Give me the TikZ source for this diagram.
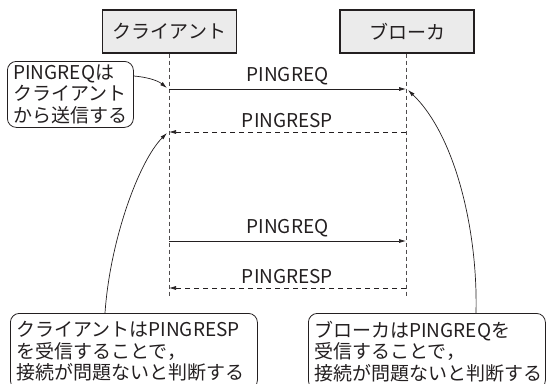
\documentclass[tikz,border=0pt]{standalone}
\usepackage{fontspec}
\setmainfont{Noto Sans CJK JP}
\usetikzlibrary{arrows.meta}
\definecolor{ink}{HTML}{231F20}
\definecolor{boxfill}{HTML}{EBEBEB}
\tikzset{
  every node/.style={font=\fontsize{19}{21.5}\selectfont, text=ink},
  actor/.style={draw=ink, line width=1.3pt, fill=boxfill, minimum width=134pt, minimum height=43pt, inner sep=0pt},
  lifeline/.style={draw=ink!80, line width=0.7pt, dash pattern=on 4pt off 3pt},
  msg/.style={draw=ink, line width=0.7pt, -{Latex[length=7pt,width=4pt]}},
  rmsg/.style={msg, dash pattern=on 5pt off 4pt},
  note/.style={draw=ink, line width=0.8pt, rounded corners=9pt, align=left, inner xsep=6pt, inner ysep=0pt, anchor=north west},
  pointer/.style={draw=ink, line width=0.7pt, -{Latex[length=7pt,width=4pt]}},
  lbl/.style={above, inner sep=0pt, yshift=4pt}
}
\begin{document}
\begin{tikzpicture}[x=1pt,y=-1pt]
\useasboundingbox (0,0) rectangle (546,383);
% actors
\node[actor] (cl) at (169.5,31.5) {クライアント};
\node[actor] (br) at (407,31.5) {ブローカ};
% lifeline ends
\coordinate (cle) at (169,298);
\coordinate (bre) at (406,298);
\draw[lifeline] (cl.south -| cle) -- (cle);
\draw[lifeline] (br.south -| bre) -- (bre);
% message points
\coordinate (c1) at (169,89);  \coordinate (b1) at (406,89);
\coordinate (c2) at (169,132); \coordinate (b2) at (406,132);
\coordinate (c3) at (169,241); \coordinate (b3) at (406,241);
\coordinate (c4) at (169,288); \coordinate (b4) at (406,288);
\draw[msg] (c1) -- node[lbl] {PINGREQ} (b1);
\draw[rmsg] (b2) -- node[lbl] {PINGRESP} (c2);
\draw[msg] (c3) -- node[lbl] {PINGREQ} (b3);
\draw[rmsg] (b4) -- node[lbl] {PINGRESP} (c4);
% notes
\node[note, text width=114pt, minimum height=66pt] (n1) at (7,61) {PINGREQは\\クライアント\\から送信する};
\node[note, text width=235pt, minimum height=76pt] (n2) at (10,313) {クライアントはPINGRESP\\を受信することで，\\接続が問題ないと判断する};
\node[note, text width=225pt, minimum height=76pt] (n3) at (308,313) {ブローカはPINGREQを\\受信することで，\\接続が問題ないと判断する};
% pointers
\coordinate (p1s) at (n1.north east |- 0,76);
\coordinate (p1e) at (167,88);
\draw[pointer] (p1s) .. controls +(12,1) and +(-10,-8) .. (p1e);
\coordinate (p2s) at (105,313);
\coordinate (p2e) at (167,133);
\draw[pointer] (p2s) .. controls (110,240) and (139,161) .. (p2e);
\coordinate (p3s) at (476,313);
\coordinate (p3e) at (408,90);
\draw[pointer] (p3s) .. controls (478,230) and (455,135) .. (p3e);
\end{tikzpicture}
\end{document}
